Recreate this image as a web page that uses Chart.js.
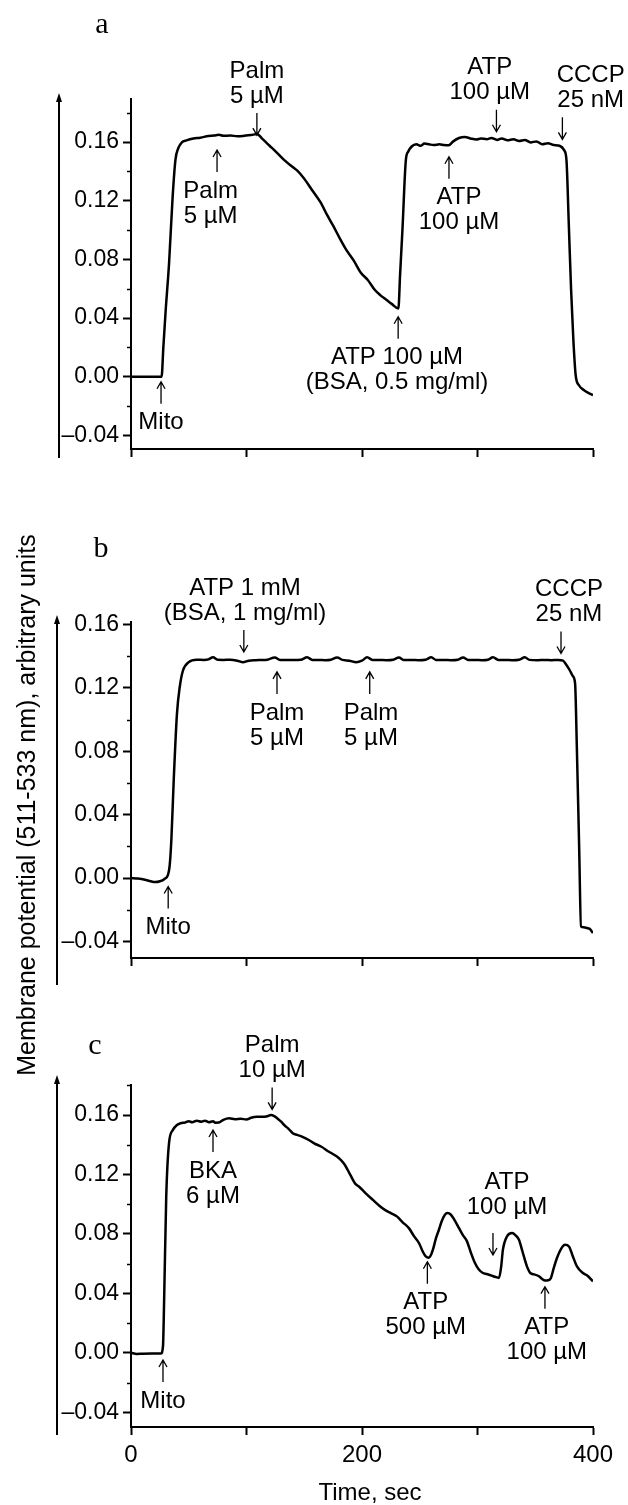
<!DOCTYPE html>
<html>
<head>
<meta charset="utf-8">
<script src="https://cdn.jsdelivr.net/npm/chart.js@4.4.1/dist/chart.umd.min.js"></script>
<style>
  body { margin: 0; background: #fff; }
  #wrap { position: relative; width: 628px; height: 1505px; background: #fff; }
  #wrap canvas { position: absolute; left: 0; top: 0; }
</style>
</head>
<body>
<div id="wrap">
  <canvas id="chartA" width="628" height="1505"></canvas>
  <canvas id="chartB" width="628" height="1505"></canvas>
  <canvas id="chartC" width="628" height="1505"></canvas>
</div>
<script>
// shared axes
var timeTicks = [0, 100, 200, 300, 400]
var timeLabels = ['0', '', '200', '', '400']
var yTicks = [-0.04, 0, 0.04, 0.08, 0.12, 0.16]
var yMinor = [-0.02, 0.02, 0.06, 0.10, 0.14, 0.18]

// panel a
var timeA = [0, 26.5, 28, 30, 33, 36, 38.5, 41, 44, 48, 54, 60, 67, 72, 76, 80, 86, 92, 98, 104,
  109, 114, 120, 126, 133, 140, 144, 150, 157, 164, 170, 175, 181, 186, 193, 199, 205, 211, 216, 221,
  226, 231.5, 233, 235, 238, 240, 243, 247, 251, 254, 258, 262, 267, 271, 275, 279, 284, 289, 294, 299,
  303, 308, 312, 317, 321, 326, 331, 336, 341, 346, 351, 356, 361, 366, 371, 375, 377, 379, 381, 383,
  385, 388, 392, 396, 400]
var signalA = [0, 0, 0.02, 0.045, 0.078, 0.122, 0.148, 0.156, 0.1598, 0.1612, 0.1625, 0.163, 0.1642, 0.1645, 0.165, 0.1643, 0.1645, 0.164, 0.1643, 0.1648,
  0.1655, 0.162, 0.1575, 0.153, 0.1475, 0.143, 0.1405, 0.135, 0.127, 0.119, 0.11, 0.103, 0.094, 0.087, 0.079, 0.0709, 0.066, 0.0593, 0.0555, 0.0525,
  0.0495, 0.0465, 0.07, 0.1, 0.148, 0.1535, 0.157, 0.1585, 0.1575, 0.159, 0.1585, 0.158, 0.1585, 0.158, 0.1578, 0.1605, 0.1628, 0.1635, 0.1625, 0.1618,
  0.1625, 0.162, 0.1628, 0.1615, 0.1625, 0.1612, 0.162, 0.1608, 0.1615, 0.1598, 0.1605, 0.1585, 0.1592, 0.158, 0.1575, 0.1545, 0.148, 0.105, 0.06, 0.025,
  0.001, -0.006, -0.009, -0.011, -0.0126]
var marksA = [
  {t: 26, v: -0.0034, dir: 'up', tx: 26, text: ['Mito']},
  {t: 74.5, v: 0.1546, dir: 'up', tx: 69, text: ['Palm', '5 µM']},
  {t: 109, v: 0.1648, dir: 'down', tx: 109, text: ['Palm', '5 µM']},
  {t: 231.3, v: 0.0409, dir: 'up', tx: 230.3, text: ['ATP 100 µM', '(BSA, 0.5 mg/ml)']},
  {t: 275.3, v: 0.150, dir: 'up', tx: 284, text: ['ATP', '100 µM']},
  {t: 316.4, v: 0.1671, dir: 'down', tx: 310.6, text: ['ATP', '100 µM']},
  {t: 373.5, v: 0.1619, dir: 'down', tx: 398, text: ['CCCP', '25 nM']}
]

// panel b
var timeB = [0, 6, 12, 17, 21, 25, 29, 32, 33.5, 35, 37, 39.8, 42.2, 45, 50, 57, 63, 67, 71, 75,
  80, 86, 92, 97, 102, 108, 113, 118, 124.5, 129, 135, 141, 147, 152.5, 157, 163, 168, 173, 178.5, 183,
  189, 195, 200, 204.5, 209, 215, 221, 227, 232, 236, 243, 249, 255, 260, 264, 271, 277, 283, 287.5, 292,
  298, 304, 309, 313.5, 318, 324, 330, 336, 341, 345, 352, 358, 364, 370, 374, 377, 380, 382.5, 384.5, 386,
  388, 389.6, 392, 394.8, 397, 400]
var signalB = [0, -0.0003, -0.001, -0.002, -0.0025, -0.002, -0.0005, 0.002, 0.008, 0.025, 0.062, 0.1038, 0.1206, 0.131, 0.1363, 0.1378, 0.1377, 0.138, 0.1393, 0.1378,
  0.1377, 0.1378, 0.1372, 0.1362, 0.1372, 0.1375, 0.1376, 0.1378, 0.1392, 0.1377, 0.1376, 0.1376, 0.1378, 0.1393, 0.1377, 0.1376, 0.1375, 0.1378, 0.1392, 0.1377,
  0.1372, 0.1362, 0.1372, 0.1393, 0.1377, 0.1376, 0.1375, 0.1378, 0.1392, 0.1377, 0.1376, 0.1375, 0.1378, 0.1393, 0.1377, 0.1376, 0.1375, 0.1378, 0.1392, 0.1377,
  0.1376, 0.1375, 0.1378, 0.1393, 0.1377, 0.1376, 0.1375, 0.1378, 0.1393, 0.1377, 0.1375, 0.1376, 0.1375, 0.1376, 0.1372, 0.1345, 0.131, 0.1275, 0.1227, 0.083,
  0.02, -0.0304, -0.031, -0.0315, -0.032, -0.0346]
var marksB = [
  {t: 32.2, v: -0.0053, dir: 'up', tx: 32.2, text: ['Mito']},
  {t: 97.7, v: 0.1427, dir: 'down', tx: 98.7, text: ['ATP 1 mM', '(BSA, 1 mg/ml)']},
  {t: 126.4, v: 0.1301, dir: 'up', tx: 126.4, text: ['Palm', '5 µM']},
  {t: 206.7, v: 0.1301, dir: 'up', tx: 207.8, text: ['Palm', '5 µM']},
  {t: 372.3, v: 0.1417, dir: 'down', tx: 379.2, text: ['CCCP', '25 nM']}
]

// panel c
var timeC = [0, 5, 10, 18, 26, 27.7, 28.7, 30.5, 32.9, 36.3, 39.8, 43, 46.7, 50, 53, 57, 61, 64, 67.5, 71,
  73, 76, 80, 85, 90, 95, 100, 104, 109, 114, 118, 121.2, 124, 127, 130, 133, 136.8, 140, 143.7, 148,
  154, 159, 164.5, 171, 178, 182, 185.2, 190, 194, 197.3, 203, 209.4, 215, 219.8, 225, 230.2, 235, 240.6, 245, 249.3,
  253, 255.2, 257.9, 259.5, 261.4, 264, 266.6, 269, 271.8, 274, 277, 280, 284, 287.5, 290.9, 294, 297.8, 301, 304.7, 308,
  311.6, 315, 318.6, 320.5, 322, 325.5, 330, 333, 335.9, 339, 342.8, 346, 349, 353.2, 356, 358.4, 361, 363.6, 366, 368.8,
  372, 375.8, 379.2, 382.5, 386.1, 391.3, 395, 400]
var signalC = [0, -0.0008, -0.0006, -0.0005, -0.0004, 0.0045, 0.036, 0.105, 0.141, 0.15, 0.1533, 0.1545, 0.1549, 0.1558, 0.1552, 0.1562, 0.1555, 0.1562, 0.1552, 0.1558,
  0.1548, 0.1549, 0.1568, 0.1578, 0.1572, 0.1575, 0.157, 0.1582, 0.1588, 0.1588, 0.1592, 0.16, 0.1592, 0.1575, 0.1555, 0.153, 0.1504, 0.1478, 0.1466, 0.1455,
  0.1432, 0.1408, 0.1388, 0.1355, 0.1322, 0.1295, 0.1264, 0.1195, 0.114, 0.1119, 0.1075, 0.1029, 0.099, 0.0962, 0.094, 0.0918, 0.088, 0.0839, 0.0785, 0.0739,
  0.0675, 0.0649, 0.064, 0.0655, 0.0694, 0.077, 0.0828, 0.0885, 0.0929, 0.094, 0.0929, 0.0895, 0.0839, 0.079, 0.075, 0.068, 0.0604, 0.0562, 0.0537, 0.053,
  0.0521, 0.0512, 0.0504, 0.058, 0.0694, 0.0783, 0.0806, 0.079, 0.0761, 0.068, 0.0582, 0.0535, 0.0528, 0.0515, 0.0497, 0.0486, 0.0488, 0.0504, 0.057, 0.0638,
  0.0695, 0.0727, 0.0716, 0.065, 0.0582, 0.0537, 0.052, 0.0481]
var marksC = [
  {t: 27.7, v: -0.0048, dir: 'up', tx: 27.7, text: ['Mito']},
  {t: 71, v: 0.1499, dir: 'up', tx: 71, text: ['BKA', '6 µM']},
  {t: 122.2, v: 0.1638, dir: 'down', tx: 122.2, text: ['Palm', '10 µM']},
  {t: 256.6, v: 0.0613, dir: 'up', tx: 255.2, text: ['ATP', '500 µM']},
  {t: 313.4, v: 0.0658, dir: 'down', tx: 325.5, text: ['ATP', '100 µM'], gap: 26},
  {t: 358.4, v: 0.0445, dir: 'up', tx: 360, text: ['ATP', '100 µM']}
]

var yTitle = 'Membrane potential (511-533 nm), arbitrary units'
var xTitle = 'Time, sec'

var SANS = '"Liberation Sans", Arial, Helvetica, sans-serif'
var SERIF = '"Liberation Serif", "Times New Roman", serif'
Chart.defaults.font.family = SANS
Chart.defaults.color = '#000'

var panels = [
  {id: 'chartA', letter: 'a', letterX: 102, letterY: 33, time: timeA, signal: signalA, marks: marksA,
   yMin: -0.0493, yMax: 0.1894, top: 99, bottom: 449, xHeight: 30, axisX: 59, axisTop: 93, axisBottom: 458},
  {id: 'chartB', letter: 'b', letterX: 101, letterY: 557, time: timeB, signal: signalB, marks: marksB,
   yMin: -0.0504, yMax: 0.1616, top: 622, bottom: 958, xHeight: 30, axisX: 57, axisTop: 615, axisBottom: 985},
  {id: 'chartC', letter: 'c', letterX: 95, letterY: 1054, time: timeC, signal: signalC, marks: marksC,
   yMin: -0.0499, yMax: 0.1802, top: 1085, bottom: 1427, xHeight: 78, axisX: 57, axisTop: 1075, axisBottom: 1435, last: true}
]

function fmt(v) {
  var s = Math.abs(v).toFixed(2)
  return v < -1e-9 ? '\u2013' + s : s
}

function arrow(ctx, x, tipY, dir) {
  var tail = dir === 'up' ? tipY + 22 : tipY - 22
  var h = dir === 'up' ? 7 : -7
  ctx.beginPath()
  ctx.moveTo(x, tail)
  ctx.lineTo(x, tipY)
  ctx.moveTo(x - 4, tipY + h)
  ctx.lineTo(x, tipY)
  ctx.lineTo(x + 4, tipY + h)
  ctx.stroke()
  return tail
}

var decor = {
  id: 'decor',
  afterDraw: function(chart) {
    var p = chart.options.panel
    var ctx = chart.ctx
    var xs = chart.scales.x, ys = chart.scales.y
    var left = chart.chartArea.left
    ctx.save()
    ctx.strokeStyle = '#000'
    ctx.fillStyle = '#000'

    // minor ticks
    ctx.lineWidth = 1.5
    yMinor.forEach(function(v) {
      if (v < ys.min || v > ys.max) return
      var y = Math.round(ys.getPixelForValue(v)) + 0.5
      ctx.beginPath(); ctx.moveTo(left - 4, y); ctx.lineTo(left, y); ctx.stroke()
    })

    // outer arrow axis
    ctx.lineWidth = 2
    ctx.beginPath(); ctx.moveTo(p.axisX, p.axisBottom); ctx.lineTo(p.axisX, p.axisTop + 6); ctx.stroke()
    ctx.beginPath()
    ctx.moveTo(p.axisX, p.axisTop); ctx.lineTo(p.axisX - 3, p.axisTop + 9); ctx.lineTo(p.axisX + 3, p.axisTop + 9)
    ctx.closePath(); ctx.fill()

    // event markers
    ctx.lineWidth = 1.3
    ctx.font = '24px ' + SANS
    ctx.textAlign = 'center'
    ctx.textBaseline = 'middle'
    p.marks.forEach(function(m) {
      var x = xs.getPixelForValue(m.t)
      var tail = arrow(ctx, x, ys.getPixelForValue(m.v), m.dir)
      var tx = xs.getPixelForValue(m.tx)
      var n = m.text.length
      var gap = m.gap || (m.dir === 'up' ? 19 : 17)
      m.text.forEach(function(s, i) {
        var y = m.dir === 'up' ? tail + gap + i * 25 : tail - gap - (n - 1 - i) * 25
        ctx.fillText(s, tx, y)
      })
    })

    // panel letter
    ctx.font = '30px ' + SERIF
    ctx.textBaseline = 'alphabetic'
    ctx.fillText(p.letter, p.letterX, p.letterY)

    if (p.last) {
      ctx.font = '24px ' + SANS
      ctx.textBaseline = 'middle'
      ctx.fillText(xTitle, (chart.chartArea.left + chart.chartArea.right) / 2 + 8, 1493)
      ctx.save()
      ctx.translate(28, 805)
      ctx.rotate(-Math.PI / 2)
      ctx.font = '25px ' + SANS
      ctx.fillText(yTitle, 0, 0)
      ctx.restore()
    }
    ctx.restore()
  }
}

panels.forEach(function(p) {
  var el = document.getElementById(p.id).getContext('2d')
  new Chart(el, {
    type: 'line',
    data: {
      datasets: [{
        data: p.time.map(function(t, i) { return {x: t, y: p.signal[i]} }),
        borderColor: '#000',
        borderWidth: 2.5,
        pointRadius: 0,
        cubicInterpolationMode: 'monotone',
        fill: false
      }]
    },
    options: {
      panel: p,
      responsive: false,
      animation: false,
      devicePixelRatio: 1,
      events: [],
      layout: {padding: {left: 0, right: 35, top: p.top, bottom: 1505 - p.bottom - p.xHeight}},
      plugins: {legend: {display: false}, tooltip: {enabled: false}},
      scales: {
        x: {
          type: 'linear', min: 0, max: 400,
          afterBuildTicks: function(s) { s.ticks = timeTicks.map(function(v) { return {value: v} }) },
          afterFit: function(s) { s.height = p.xHeight },
          ticks: {
            autoSkip: false, maxRotation: 0, padding: 6,
            font: {size: 24}, color: '#000',
            callback: function(v, i) { return p.last ? timeLabels[i] : '' }
          },
          grid: {drawOnChartArea: false, tickLength: 8, tickColor: '#000', tickWidth: 2},
          border: {display: true, color: '#000', width: 2}
        },
        y: {
          min: p.yMin, max: p.yMax,
          afterBuildTicks: function(s) { s.ticks = yTicks.map(function(v) { return {value: v} }) },
          afterFit: function(s) { s.width = 131 },
          ticks: {autoSkip: false, padding: 4, font: {size: 23}, color: '#000', callback: function(v) { return fmt(v) }},
          grid: {drawOnChartArea: false, tickLength: 8, tickColor: '#000', tickWidth: 2},
          border: {display: true, color: '#000', width: 2}
        }
      }
    },
    plugins: [decor]
  })
})
</script>
</body>
</html>
